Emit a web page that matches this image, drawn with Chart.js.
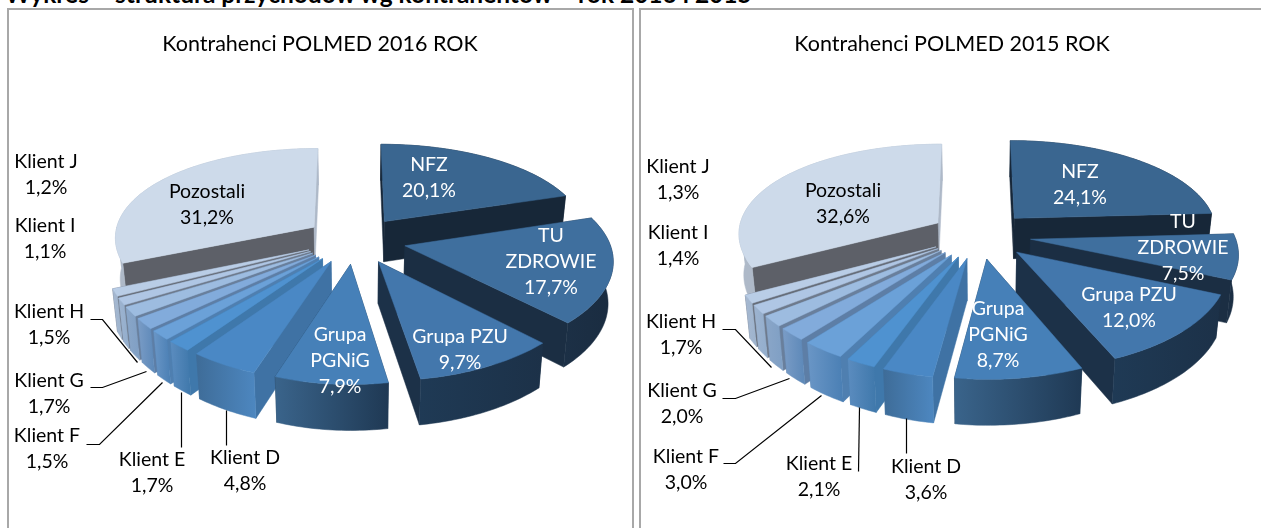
<!DOCTYPE html>
<html lang="pl">
<head>
<meta charset="utf-8">
<title>Kontrahenci POLMED</title>
<script src="https://cdn.jsdelivr.net/npm/chart.js@4"></script>
<style>
html,body{margin:0;padding:0;background:#fff;width:1261px;height:528px;overflow:hidden;position:relative}
#cap{position:absolute;left:5px;top:-21px;font:bold 24.5px Lato,sans-serif;color:#000;white-space:nowrap}
.box{position:absolute;top:8px;height:540px;border:2px solid #a8a8a8;box-sizing:border-box}
#b1{left:7px;width:627px}
#b2{left:639px;width:650px}
canvas{position:absolute;top:10px}
#c1{left:8px}
#c2{left:640px}
</style>
</head>
<body>
<div id="cap">Wykres – struktura przychodów wg kontrahentów – rok 2016 i 2015</div>
<div class="box" id="b1"></div>
<div class="box" id="b2"></div>
<canvas id="c1" width="624" height="518"></canvas>
<canvas id="c2" width="624" height="518"></canvas>
<script>
const categories = [['NFZ'], ['TU', 'ZDROWIE'], ['Grupa PZU'], ['Grupa', 'PGNiG'], ['Klient D'], ['Klient E'], ['Klient F'], ['Klient G'], ['Klient H'], ['Klient I'], ['Klient J'], ['Pozostali']];
const values2016 = [20.1, 17.7, 9.7, 7.9, 4.8, 1.7, 1.5, 1.7, 1.5, 1.1, 1.2, 31.2];
const values2015 = [24.1, 7.5, 12.0, 8.7, 3.6, 2.1, 3.0, 2.0, 1.7, 1.4, 1.3, 32.6];

const topColors = ['#3a6690', '#3f6f9e', '#4377ac', '#4680b8', '#4a88c5', '#4f92d0', '#6ba1d8', '#82abdb', '#9dbce0', '#afc6e4', '#b9cde6', '#cddaea'];
const radialColors = ['#172738', '#1b2e43', '#1c3148', '#1f3a55', '#3f72a4', '#3f78ab', '#4f7fb0', '#5d7ea6', '#697f9c', '#6e7a8c', '#666d79', '#5d6068'];
const wallLeft = ['#1d3246', '#1c3046', '#1f3a55', '#3a648b', '#3e6c98', '#5b8cbf', '#6a96c6', '#7a9cc6', '#8aa6c8', '#9db3cf', '#a6b8d0', '#aeb9c8'];
const wallRight = ['#172738', '#1a2c40', '#1c3148', '#1f3954', '#4d87c0', '#3f78ab', '#4a7fb4', '#5c88b8', '#7f9fc4', '#93aecd', '#9db3cd', '#aeb9c8'];

const view = {explode: 0.25, rxL: 200, kxL: 0.1, rxR: 204, kxR: 0.13, ry: 94, ky: 0.15, depth: 41, depthSlope: 4, converge: 0.98};
const font = '19.5px Lato, sans-serif';

// label block centres, in page pixels
const labels2016 = [[429,178],[551,262],[460,350],[340,361],[245,471],[152,473],[47,449],[49,394],[49,325],[45,239],[46,175],[207,205]];
const labels2015 = [[1080,185],[1183,248],[1129,308],[998,335],[926,480],[819,477],[686,470],[682,404],[681,335],[678,246],[678,180],[843,204]];
// leader polylines, in page pixels
const leaders2016 = [[[90,319],[102,319],[137,362]],[[90,387],[102,387],[146,371]],[[86,444],[99,444],[162,382]],[[181,447],[181,392]],[[226,445],[226,410]]];
const leaders2015 = [[[722,329],[735,329],[771,367]],[[722,398],[735,398],[789,378]],[[723,463],[735,463],[821,395]],[[858,471],[859,407]],[[906,453],[906,418]]];

const pie3d = {
  id: 'pie3d',
  beforeDatasetDraw(chart, args, opts) {
    const ctx = chart.ctx, arcs = chart.getDatasetMeta(args.index).data;
    const cx = opts.center[0] - opts.origin[0], cy = opts.center[1] - opts.origin[1];
    const proj = (u, v, low) => {
      const rx = u > 0 ? view.rxR : view.rxL, kx = u > 0 ? view.kxR : view.kxL;
      let x = rx * u / (1 - kx * v), y = view.ry * v / (1 - view.ky * v);
      if (low) { x *= view.converge; y += view.depth + view.depthSlope * v; }
      return [cx + x, cy + y];
    };
    const order = arcs.map((a, i) => i).sort((p, q) => {
      const m = i => (arcs[i].startAngle + arcs[i].endAngle) / 2;
      return Math.sin(m(p)) - Math.sin(m(q));
    });
    const poly = (pts, fill) => {
      ctx.beginPath();
      pts.forEach((p, i) => i ? ctx.lineTo(p[0], p[1]) : ctx.moveTo(p[0], p[1]));
      ctx.closePath();
      ctx.fillStyle = fill; ctx.strokeStyle = fill; ctx.lineWidth = 0.5;
      ctx.fill(); ctx.stroke();
    };
    order.forEach(i => {
      const a0 = arcs[i].startAngle, a1 = arcs[i].endAngle, mid = (a0 + a1) / 2;
      const ou = view.explode * Math.cos(mid), ov = view.explode * Math.sin(mid);
      const at = (a, low) => proj(ou + Math.cos(a), ov + Math.sin(a), low);
      const apex = low => proj(ou, ov, low);
      const sweep = (s, e, low) => {
        const pts = [], n = Math.max(2, Math.ceil((e - s) / 0.02));
        for (let j = 0; j <= n; j++) pts.push(at(s + (e - s) * j / n, low));
        return pts;
      };
      const wall = (s, e) => {
        if (e <= s) return;
        const up = sweep(s, e, false), lo = sweep(s, e, true).reverse();
        const all = up.concat(lo), xs = all.map(p => p[0]);
        const g = ctx.createLinearGradient(Math.min(...xs), 0, Math.max(...xs), 0);
        g.addColorStop(0, wallLeft[i]); g.addColorStop(1, wallRight[i]);
        poly(all, g);
      };
      const radial = (a, fill) => poly([apex(false), at(a, false), at(a, true), apex(true)], fill);
      const startFill = radialColors[i];
      const endFill = i === arcs.length - 1 ? wallLeft[i] : radialColors[i];
      // back-facing outer wall
      wall(a0, Math.min(a1, 0));
      wall(Math.max(a0, Math.PI), a1);
      // radial cut faces, hidden one first
      const startFront = -Math.cos(a0) > 0, endFront = Math.cos(a1) > 0;
      if (!startFront) radial(a0, startFill);
      if (!endFront) radial(a1, endFill);
      if (startFront) radial(a0, startFill);
      if (endFront) radial(a1, endFill);
      // front-facing outer wall
      wall(Math.max(a0, 0), Math.min(a1, Math.PI));
      // top face
      poly([apex(false)].concat(sweep(a0, a1, false)), topColors[i]);
    });
    return false;
  },
  afterDraw(chart, args, opts) {
    const ctx = chart.ctx, ds = chart.data.datasets[0], ox = opts.origin[0], oy = opts.origin[1];
    ctx.save();
    ctx.strokeStyle = '#000'; ctx.lineWidth = 1.2;
    opts.leaders.forEach(l => {
      ctx.beginPath();
      l.forEach((p, i) => i ? ctx.lineTo(p[0] - ox + .5, p[1] - oy + .5) : ctx.moveTo(p[0] - ox + .5, p[1] - oy + .5));
      ctx.stroke();
    });
    ctx.font = font; ctx.textAlign = 'center'; ctx.textBaseline = 'middle';
    chart.data.labels.forEach((lab, i) => {
      const lines = lab.concat(ds.data[i].toFixed(1).replace('.', ',') + '%');
      const [x, y] = opts.labelAt[i];
      ctx.fillStyle = i < 4 ? '#fff' : '#000';
      lines.forEach((t, j) => ctx.fillText(t, x - ox, y - oy + (j - (lines.length - 1) / 2) * 26));
    });
    ctx.restore();
  }
};

function build(id, year, values, center, origin, labelAt, leaders) {
  return new Chart(document.getElementById(id), {
    type: 'pie',
    data: {labels: categories, datasets: [{data: values, backgroundColor: topColors, borderWidth: 0}]},
    plugins: [pie3d],
    options: {
      responsive: false,
      animation: false,
      events: [],
      plugins: {
        legend: {display: false},
        tooltip: {enabled: false},
        title: {display: true, text: 'Kontrahenci POLMED ' + year + ' ROK', color: '#000',
                font: {family: 'Lato, sans-serif', size: 21.5, weight: 'normal'}, padding: {top: 21, bottom: 10}},
        pie3d: {center, origin, labelAt, leaders}
      }
    }
  });
}
build('c1', 2016, values2016, [355, 240], [8, 10], labels2016, leaders2016);
build('c2', 2015, values2015, [980, 235], [640, 10], labels2015, leaders2015);
</script>
</body>
</html>
